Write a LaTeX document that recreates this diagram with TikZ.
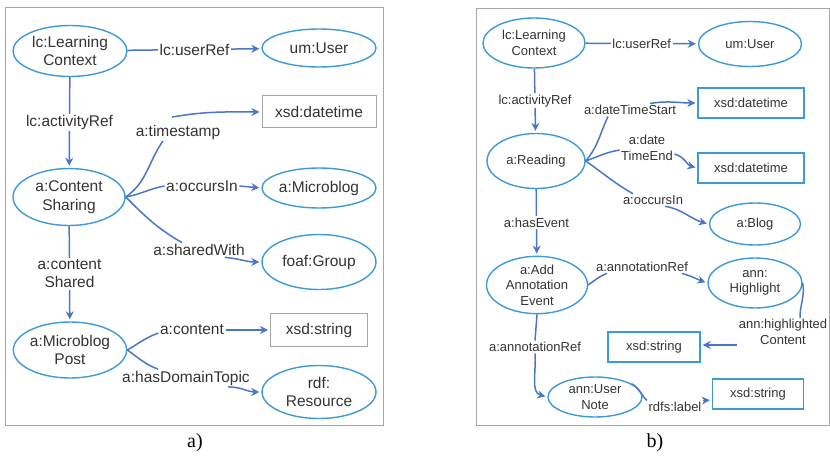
\documentclass[tikz,border=0pt]{standalone}
\usepackage{fontspec}
\setmainfont{Liberation Sans}
\newfontfamily\capfont{Liberation Serif}
\usepackage{xcolor}
\usetikzlibrary{arrows.meta,shapes.geometric}
\definecolor{ringblue}{HTML}{3C9AD6}
\definecolor{edgeblue}{HTML}{4A75C8}
\definecolor{framegray}{HTML}{A6A6A6}
\definecolor{textgray}{HTML}{333333}

\begin{document}
\begin{tikzpicture}[x=1pt,y=1pt]
  \tikzset{class/.style = {ellipse, draw=ringblue, line width=1.4pt, text=textgray, align=center, inner sep=0pt}}
  \tikzset{literal/.style = {rectangle, draw=framegray, line width=1pt, text=textgray, inner sep=0pt}}
  \tikzset{prop/.style = {text=textgray, align=center, inner sep=1.5pt}}
  \tikzset{link/.style = {draw=edgeblue, line width=1.5pt}}
  \tikzset{edge/.style = {link, -{Stealth[length=8pt,width=8pt]}, shorten >=2pt}}
  \useasboundingbox (0,0) rectangle (830,-457);

  % frames and captions
  \draw[framegray] (5,-7) rectangle (383,-425);
  \draw[framegray] (476,-8) rectangle (829,-425);
  \node[font=\capfont\fontsize{20}{22}\selectfont] (capa) at (195,-443) {a)};
  \node[font=\capfont\fontsize{20}{22}\selectfont] (capb) at (655,-443) {b)};

  % a) vertices
  \begin{scope}[font=\fontsize{15.5}{18.5}\selectfont]
    \node[class, minimum width=114, minimum height=51] (lc) at (70,-51) {lc:Learning\\Context};
    \node[class, minimum width=114, minimum height=38] (user) at (319,-48) {um:User};
    \node[literal, minimum width=114, minimum height=32] (dt) at (319,-112) {xsd:datetime};
    \node[class, minimum width=112, minimum height=57] (cs) at (69,-197) {a:Content\\Sharing};
    \node[class, minimum width=114, minimum height=40] (mb) at (319,-188) {a:Microblog};
    \node[class, minimum width=114, minimum height=55] (fg) at (319,-262) {foaf:Group};
    \node[class, minimum width=113, minimum height=56] (mp) at (70,-350) {a:Microblog\\Post};
    \node[literal, minimum width=97, minimum height=33] (xs) at (319,-330) {xsd:string};
    \node[class, minimum width=114, minimum height=53] (rr) at (319,-392) {rdf:\\Resource};

    \node[prop] (ts) at (178,-132) {a:timestamp};
    \node[prop] (oc) at (202,-186) {a:occursIn};
    \node[prop] (sw) at (199,-250) {a:sharedWith};
    \node[prop] (ct) at (192,-330) {a:content};
    \node[prop] (hd) at (186,-378) {a:hasDomainTopic};

    % a) edges
    \draw[edge] (lc) -- node[prop, fill=white] (ur) {lc:userRef} (user);
    \draw[edge] (lc) -- node[prop, fill=white] (ar) {lc:activityRef} (cs);
    \draw[edge] (cs) -- node[prop, fill=white] (csh) {a:content\\Shared} (mp);
    \draw[link] (cs.east) to[out=35,in=-125] ([xshift=-15pt]ts.south);
    \draw[edge] ([xshift=-6pt,yshift=6pt]ts.north) to[out=10,in=180] (dt.west);
    \draw[link] (cs.east) to[out=10,in=190] (oc.west);
    \draw[edge] (oc.east) -- (mb.west);
    \draw[link] (cs.east) to[out=-45,in=150] ([xshift=-17pt]sw.north);
    \draw[edge] ([xshift=26pt]sw.south) to[out=-5,in=180] (fg.west);
    \draw[link] (mp.east) to[out=30,in=200] ([yshift=-3pt]ct.west);
    \draw[edge] (ct.east) -- (xs.west);
    \draw[link] (mp.east) to[out=-35,in=160] ([xshift=-28pt]hd.north);
    \draw[edge] ([xshift=42pt]hd.south) to[out=0,in=180] (rr.west);
  \end{scope}

  % b) vertices
  \begin{scope}[font=\fontsize{13}{15.5}\selectfont, literal/.append style={draw=ringblue, line width=1.4pt}]
    \node[class, minimum width=102, minimum height=50] (lc2) at (534,-43) {lc:Learning\\Context};
    \node[class, minimum width=103, minimum height=45] (user2) at (750,-44) {um:User};
    \node[literal, minimum width=106, minimum height=30] (dt1) at (751,-103) {xsd:datetime};
    \node[class, minimum width=98, minimum height=55] (rd) at (536,-161) {a:Reading};
    \node[literal, minimum width=106, minimum height=30] (dt2) at (751,-168) {xsd:datetime};
    \node[class, minimum width=91, minimum height=42] (blog) at (755,-224) {a:Blog};
    \node[class, minimum width=101, minimum height=54] (aae) at (537,-285) {a:Add\\Annotation\\Event};
    \node[class, minimum width=94, minimum height=50] (hl) at (755,-283) {ann:\\Highlight};
    \node[literal, minimum width=92, minimum height=30] (xs1) at (654,-347) {xsd:string};
    \node[class, minimum width=94, minimum height=40] (un) at (595,-397) {ann:User\\Note};
    \node[literal, minimum width=91, minimum height=30] (xs2) at (758,-394) {xsd:string};

    \node[prop] (dts) at (630,-110) {a:dateTimeStart};
    \node[prop] (dte) at (647,-148) {a:date\\TimeEnd};
    \node[prop] (oc2) at (653,-200) {a:occursIn};
    \node[prop] (ar1) at (642,-267) {a:annotationRef};
    \node[prop] (hc) at (783,-332) {ann:highlighted\\Content};
    \node[prop] (ar2) at (535,-347) {a:annotationRef};
    \node[prop] (rl) at (675,-407) {rdfs:label};

    % b) edges
    \draw[edge] (lc2) -- node[prop, fill=white] (ur2) {lc:userRef} (user2);
    \draw[edge] (lc2) -- node[prop, fill=white] (act2) {lc:activityRef} (rd);
    \draw[edge] (rd) -- node[prop, fill=white] (he) {a:hasEvent} (aae);
    \draw[link] (rd.east) to[out=50,in=-115] ([xshift=-22pt]dts.south);
    \draw[edge] ([xshift=20pt]dts.north) to[out=10,in=180] (dt1.west);
    \draw[link] (rd.east) to[out=20,in=190] ([yshift=-2pt]dte.west);
    \draw[edge] ([yshift=-6pt]dte.east) to[out=-15,in=165] (dt2.west);
    \draw[link] (rd.east) to[out=-35,in=150] ([xshift=-20pt]oc2.north);
    \draw[edge] ([xshift=12pt]oc2.south) to[out=-10,in=165] (blog.west);
    \draw[link] (aae.east) to[out=35,in=200] ([xshift=-35pt]ar1.south);
    \draw[edge] ([xshift=40pt]ar1.south) to[out=-15,in=160] (hl.west);
    \draw[link] (hl.east) to[out=-80,in=90] ([xshift=17pt]hc.north);
    \draw[edge] ([yshift=-13pt]hc.west) -- ([yshift=-13pt]hc.west -| xs1.east);
    \draw[link] (aae.south) -- (ar2.north);
    \draw[edge] (ar2.south) to[out=-85,in=165] (un.west);
    \draw[link] (un.20) to[out=-30,in=135] (rl.north west);
    \draw[edge] (rl.north east) -- ([yshift=-6pt]xs2.west);
  \end{scope}
\end{tikzpicture}
\end{document}
